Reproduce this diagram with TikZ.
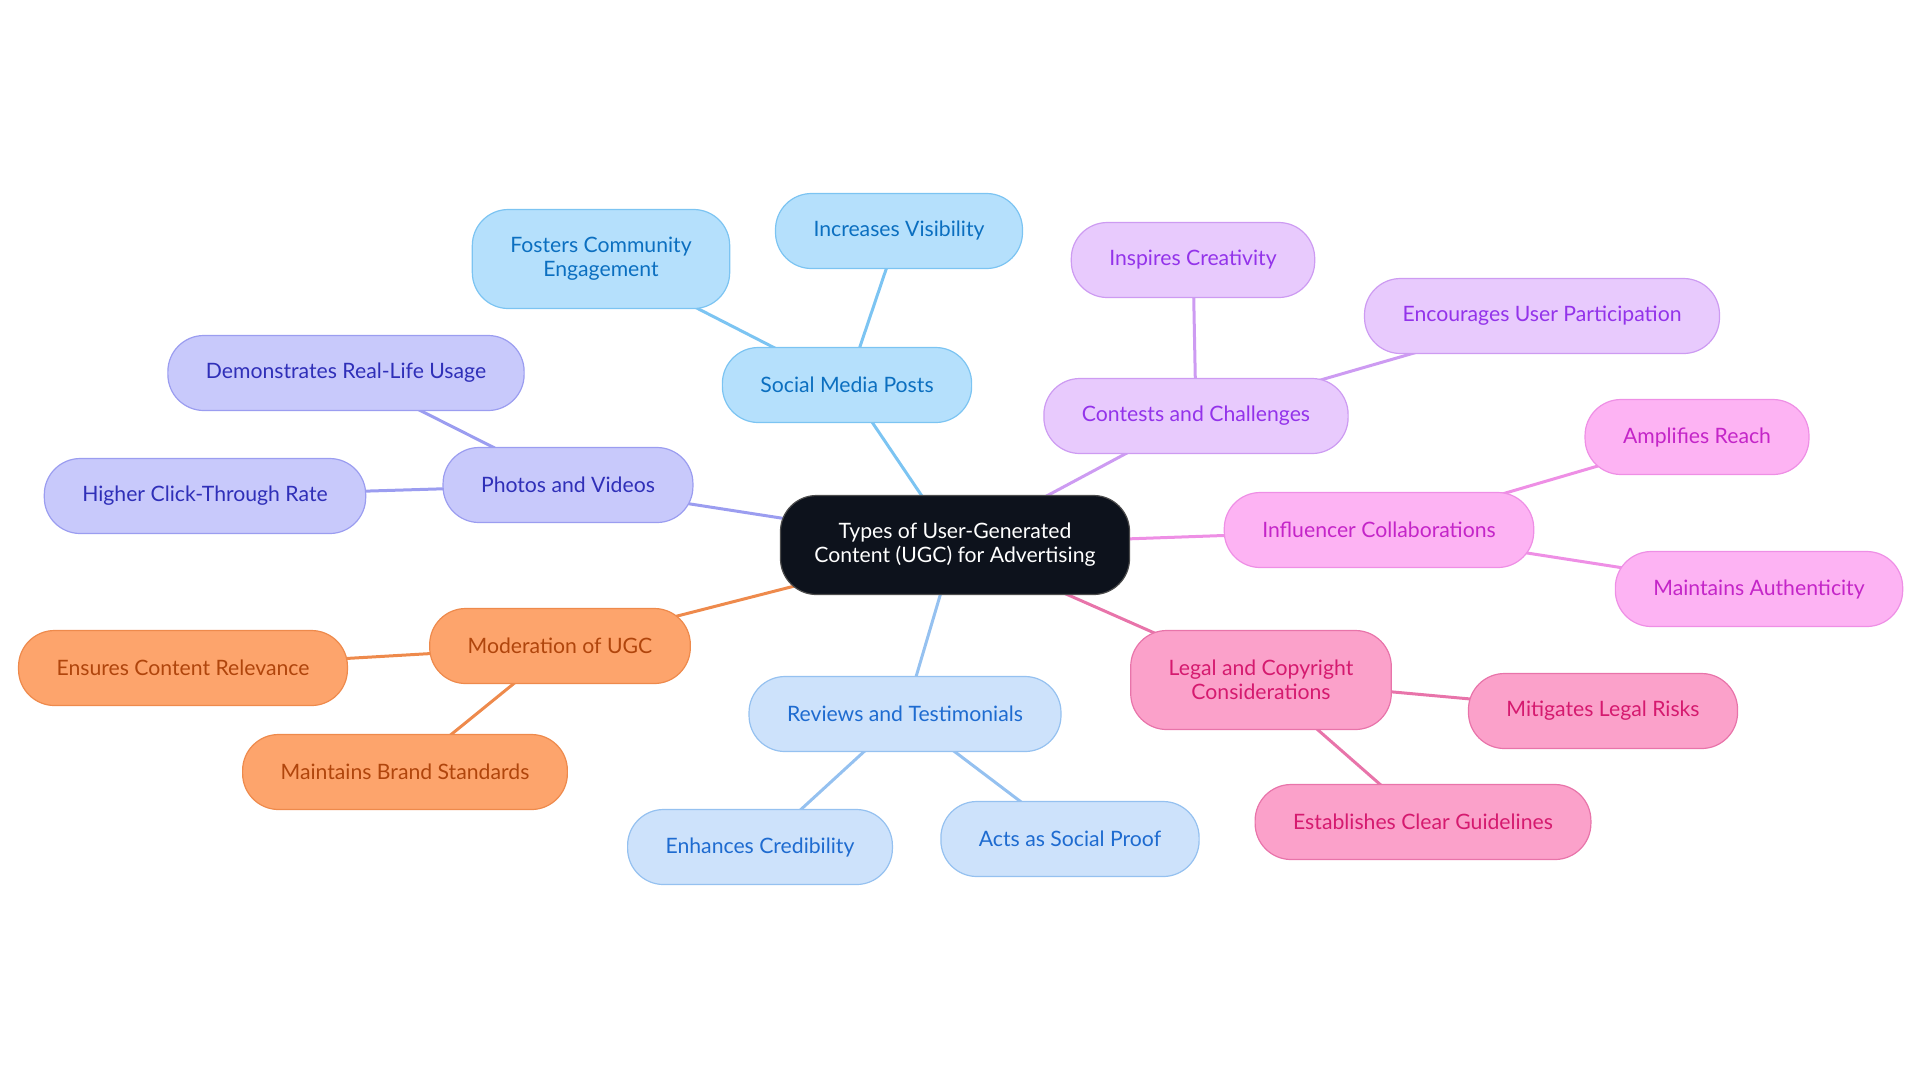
\documentclass[tikz,border=0pt]{standalone}
\usepackage{fontspec}
\setmainfont{Lato}
\usepackage{tikz}
\usepackage{xcolor}
\usetikzlibrary{backgrounds}

\definecolor{rootfill}{HTML}{0D121C}
\definecolor{skyfill}{HTML}{B5E0FC}
\definecolor{skyline}{HTML}{7CC4F2}
\definecolor{skytext}{HTML}{0B6FC0}
\definecolor{indfill}{HTML}{C8C9FB}
\definecolor{indline}{HTML}{9B9DF0}
\definecolor{indtext}{HTML}{2F2FB8}
\definecolor{orgfill}{HTML}{FDA46C}
\definecolor{orgline}{HTML}{EE8A4C}
\definecolor{orgtext}{HTML}{B0450C}
\definecolor{bluefill}{HTML}{CDE2FB}
\definecolor{blueline}{HTML}{95C1F0}
\definecolor{bluetext}{HTML}{1E6BD0}
\definecolor{purfill}{HTML}{E8CAFD}
\definecolor{purline}{HTML}{CD9BF2}
\definecolor{purtext}{HTML}{9333EA}
\definecolor{fucfill}{HTML}{FDB3F3}
\definecolor{fucline}{HTML}{EE8FE5}
\definecolor{fuctext}{HTML}{C425C8}
\definecolor{pinkfill}{HTML}{FBA1CA}
\definecolor{pinkline}{HTML}{E874AA}
\definecolor{pinktext}{HTML}{D51A6F}

\tikzset{
  topic/.style={rounded corners=18pt, minimum height=37.5pt, inner xsep=19pt,
    align=center, line width=0.6pt, font=\fontsize{10.6}{12}\selectfont},
  tall/.style={minimum height=49.5pt},
  root/.style={topic, tall, rounded corners=18pt, inner xsep=17pt, fill=rootfill, draw=black!70, text=white},
  sky/.style={topic, fill=skyfill, draw=skyline, text=skytext},
  ind/.style={topic, fill=indfill, draw=indline, text=indtext},
  org/.style={topic, fill=orgfill, draw=orgline, text=orgtext},
  blu/.style={topic, fill=bluefill, draw=blueline, text=bluetext},
  pur/.style={topic, fill=purfill, draw=purline, text=purtext},
  fuc/.style={topic, fill=fucfill, draw=fucline, text=fuctext},
  pnk/.style={topic, fill=pinkfill, draw=pinkline, text=pinktext},
  link/.style={line width=1.5pt}
}

\begin{document}
\begin{tikzpicture}[x=0.5pt, y=-0.5pt]
    \useasboundingbox (0,0) rectangle (1920,1083);

    % Root
    \node [root] (ugc) at (955,545) {Types of User-Generated\\Content (UGC) for Advertising};

    % Social media posts
    \node [sky] (social) at (847,385) {Social Media Posts};
    \node [sky] (visib) at (899,231) {Increases Visibility};
    \node [sky, tall] (foster) at (601,259) {Fosters Community\\Engagement};

    % Photos and videos
    \node [ind] (photos) at (568,485) {Photos and Videos};
    \node [ind] (reallife) at (346,373) {Demonstrates Real-Life Usage};
    \node [ind] (ctr) at (205,496) {Higher Click-Through Rate};

    % Moderation
    \node [org] (moder) at (560,646) {Moderation of UGC};
    \node [org] (relev) at (183,668) {Ensures Content Relevance};
    \node [org] (brand) at (405,772) {Maintains Brand Standards};

    % Reviews
    \node [blu] (reviews) at (905,714) {Reviews and Testimonials};
    \node [blu] (cred) at (760,847) {Enhances Credibility};
    \node [blu] (proof) at (1070,839) {Acts as Social Proof};

    % Contests
    \node [pur] (contest) at (1196,416) {Contests and Challenges};
    \node [pur] (creat) at (1193,260) {Inspires Creativity};
    \node [pur] (partic) at (1542,316) {Encourages User Participation};

    % Influencers
    \node [fuc] (influ) at (1379,530) {Influencer Collaborations};
    \node [fuc] (reach) at (1697,437) {Amplifies Reach};
    \node [fuc] (authen) at (1759,589) {Maintains Authenticity};

    % Legal
    \node [pnk, tall] (legal) at (1261,680) {Legal and Copyright\\Considerations};
    \node [pnk] (risks) at (1603,711) {Mitigates Legal Risks};
    \node [pnk] (guide) at (1423,822) {Establishes Clear Guidelines};

    % Connectors
    \begin{pgfonlayer}{background}
        \draw [link, skyline] (ugc.center) -- (social.center);
        \draw [link, skyline] (social.center) -- (visib.center);
        \draw [link, skyline] (social.center) -- (foster.center);
        \draw [link, indline] (ugc.center) -- (photos.center);
        \draw [link, indline] (photos.center) -- (reallife.center);
        \draw [link, indline] (photos.center) -- (ctr.center);
        \draw [link, orgline] (ugc.center) -- (moder.center);
        \draw [link, orgline] (moder.center) -- (relev.center);
        \draw [link, orgline] (moder.center) -- (brand.center);
        \draw [link, blueline] (ugc.center) -- (reviews.center);
        \draw [link, blueline] (reviews.center) -- (cred.center);
        \draw [link, blueline] (reviews.center) -- (proof.center);
        \draw [link, purline] (ugc.center) -- (contest.center);
        \draw [link, purline] (contest.center) -- (creat.center);
        \draw [link, purline] (contest.center) -- (partic.center);
        \draw [link, fucline] (ugc.center) -- (influ.center);
        \draw [link, fucline] (influ.center) -- (reach.center);
        \draw [link, fucline] (influ.center) -- (authen.center);
        \draw [link, pinkline] (ugc.center) -- (legal.center);
        \draw [link, pinkline] (legal.center) -- (risks.center);
        \draw [link, pinkline] (legal.center) -- (guide.center);
    \end{pgfonlayer}
\end{tikzpicture}
\end{document}
